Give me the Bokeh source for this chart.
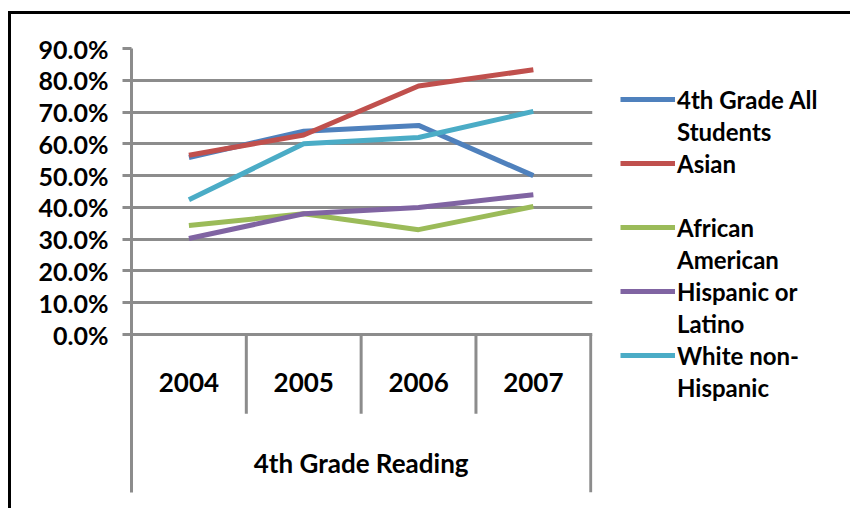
from bokeh.plotting import figure
from bokeh.models import (Range1d, FixedTicker, NumeralTickFormatter, Legend, LegendItem)
from bokeh.core.properties import value
from bokeh.embed import file_html
from bokeh.resources import INLINE

years = ["2004", "2005", "2006", "2007"]
group_label = "4th Grade Reading"
legend_rows = [("4th Grade All", 0), ("Students", None), ("Asian", 1), (" ", None),
               ("African", 2), ("American", None), ("Hispanic or", 3), ("Latino", None),
               ("White non-", 4), ("Hispanic", None)]
all_students = [0.557, 0.640, 0.658, 0.500]
asian = [0.564, 0.628, 0.782, 0.833]
african_american = [0.343, 0.380, 0.330, 0.403]
hispanic = [0.302, 0.380, 0.400, 0.440]
white = [0.424, 0.600, 0.620, 0.702]
y_ticks = [0.0, 0.1, 0.2, 0.3, 0.4, 0.5, 0.6, 0.7, 0.8, 0.9]

colors = ["#4F81BD", "#C0504D", "#9BBB59", "#8064A2", "#4BACC6"]
series = [all_students, asian, african_american, hispanic, white]
FONT = "Lato"
GRAY = "#8C8C8C"

p = figure(frame_width=461, frame_height=444, min_border_left=120, min_border_top=34,
           min_border_bottom=16, min_border_right=0,
           x_range=Range1d(0, 4.015), y_range=Range1d(-0.497, 0.9),
           output_backend="svg", toolbar_location=None, background_fill_color="white",
           border_fill_color="white", outline_line_color=None)

p.xaxis.visible = False
p.xgrid.visible = False
yax = p.yaxis[0]
yax.ticker = FixedTicker(ticks=y_ticks)
yax.formatter = NumeralTickFormatter(format="0.0%")
yax.axis_line_color = GRAY
yax.axis_line_width = 3
yax.major_tick_line_color = GRAY
yax.major_tick_line_width = 3
yax.major_tick_out = 9
yax.major_tick_in = 0
yax.minor_tick_line_color = None
yax.major_label_standoff = 14
yax.major_label_text_font = FONT
yax.major_label_text_font_style = "bold"
yax.major_label_text_font_size = "25px"
yax.major_label_text_color = "black"
p.ygrid.ticker = FixedTicker(ticks=y_ticks)
p.ygrid.grid_line_color = GRAY
p.ygrid.grid_line_width = 3

xs = [i + 0.5 for i in range(len(years))]

# category box lines
p.segment(x0=[1, 2, 3], y0=[0, 0, 0], x1=[1, 2, 3], y1=[-0.249, -0.249, -0.249],
          line_color=GRAY, line_width=3)
p.segment(x0=[4], y0=[0], x1=[4], y1=[-0.497], line_color=GRAY, line_width=3)

p.text(x=xs, y=[-0.151] * 4, text=years, text_font=value(FONT), text_font_style="bold",
       text_font_size="26px", text_align="center", text_baseline="middle", text_color="black")
p.text(x=[2.0], y=[-0.403], text=[group_label], text_font=value(FONT), text_font_style="bold",
       text_font_size="26px", text_align="center", text_baseline="middle", text_color="black")

renderers = []
for vals, c in zip(series, colors):
    renderers.append(p.line(xs, vals, line_color=c, line_width=5))

items = []
for label, idx in legend_rows:
    items.append(LegendItem(label=label, renderers=[renderers[idx]] if idx is not None else []))

legend = Legend(items=items, location=(28, 89), margin=0, padding=0, spacing=0,
                glyph_width=55, glyph_height=32, label_standoff=2, label_height=32,
                label_text_font=FONT, label_text_font_style="bold", label_text_font_size="24px",
                label_text_color="black", label_text_baseline="middle",
                border_line_alpha=0, background_fill_alpha=0)
p.add_layout(legend, "right")
p.min_border_right = 258 - 0

p.styles = {"border-left": "3px solid black", "border-top": "3px solid black",
            "margin-left": "8px", "margin-top": "11px"}

open("out.html", "w").write(file_html(p, INLINE))
